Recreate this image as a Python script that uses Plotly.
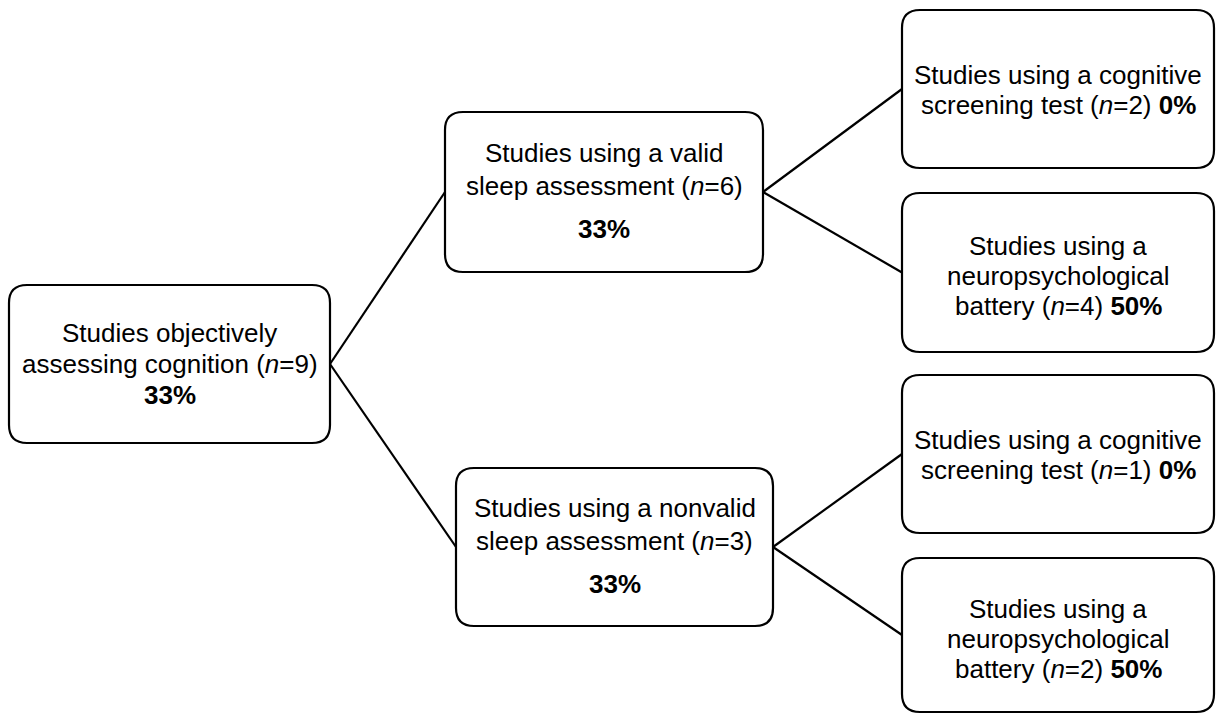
import plotly.graph_objects as go

# ---------------- data ----------------
node_labels = [
    ["Studies objectively", "assessing cognition"],
    ["Studies using a valid", "sleep assessment"],
    ["Studies using a nonvalid", "sleep assessment"],
    ["Studies using a cognitive", "screening test"],
    ["Studies using a", "neuropsychological", "battery"],
    ["Studies using a cognitive", "screening test"],
    ["Studies using a", "neuropsychological", "battery"],
]
node_n = [9, 6, 3, 2, 4, 1, 2]
node_pct = ["33%", "33%", "33%", "0%", "50%", "0%", "50%"]
edge_parent = [0, 0, 1, 1, 2, 2]
edge_child = [1, 2, 3, 4, 5, 6]

# ---------------- layout (pixel geometry) ----------------
W, H = 1216, 715
box_x0 = [9, 445, 456, 902, 902, 902, 902]
box_x1 = [330, 763, 773, 1214, 1214, 1214, 1214]
box_y0 = [285, 112, 468, 10, 193, 375, 558]
box_y1 = [443, 272, 626, 168, 352, 533, 712]
pct_inline = [False, False, False, True, True, True, True]
# baseline offsets of each text line relative to the box centre
line_offsets = [
    [-22, 9, 40],
    [-30, 3, 46],
    [-30, 3, 46],
    [-5, 25],
    [-17, 13, 43],
    [-5, 25],
    [-17, 13, 43],
]
FONT = "Liberation Sans"
FS = 26
RADIUS = 18
LW = 2.2

fig = go.Figure()

# connectors
for p, c in zip(edge_parent, edge_child):
    xs = [box_x1[p], box_x0[c]]
    ys = [(box_y0[p] + box_y1[p]) / 2, (box_y0[c] + box_y1[c]) / 2]
    fig.add_trace(go.Scatter(x=xs, y=ys, mode="lines",
                             line=dict(color="black", width=LW),
                             hoverinfo="skip", showlegend=False))

# boxes
def rrect(x0, y0, x1, y1, r):
    return (f"M {x0+r},{y0} L {x1-r},{y0} Q {x1},{y0} {x1},{y0+r} "
            f"L {x1},{y1-r} Q {x1},{y1} {x1-r},{y1} L {x0+r},{y1} "
            f"Q {x0},{y1} {x0},{y1-r} L {x0},{y0+r} Q {x0},{y0} {x0+r},{y0} Z")

for i in range(len(node_labels)):
    fig.add_shape(type="path",
                  path=rrect(box_x0[i], box_y0[i], box_x1[i], box_y1[i], RADIUS),
                  line=dict(color="black", width=LW), fillcolor="white",
                  layer="above")

# text
for i, labels in enumerate(node_labels):
    lines = list(labels)
    lines[-1] = f"{lines[-1]} (<i>n</i>={node_n[i]})"
    if pct_inline[i]:
        lines[-1] += f" <b>{node_pct[i]}</b>"
    else:
        lines.append(f"<b>{node_pct[i]}</b>")
    cx = (box_x0[i] + box_x1[i]) / 2
    cy = (box_y0[i] + box_y1[i]) / 2
    for j, txt in enumerate(lines):
        base = cy + line_offsets[i][j]
        fig.add_annotation(x=cx, y=base - 0.35 * FS, text=txt, showarrow=False,
                           xanchor="center", yanchor="middle",
                           font=dict(family=FONT, size=FS, color="black"))

fig.update_xaxes(range=[0, W], visible=False, fixedrange=True)
fig.update_yaxes(range=[H, 0], visible=False, fixedrange=True)
fig.update_layout(width=W, height=H, margin=dict(l=0, r=0, t=0, b=0),
                  paper_bgcolor="white", plot_bgcolor="white",
                  showlegend=False)

fig.write_html("out.html", config={"displayModeBar": False},
               post_script="document.body.style.margin='0';")
